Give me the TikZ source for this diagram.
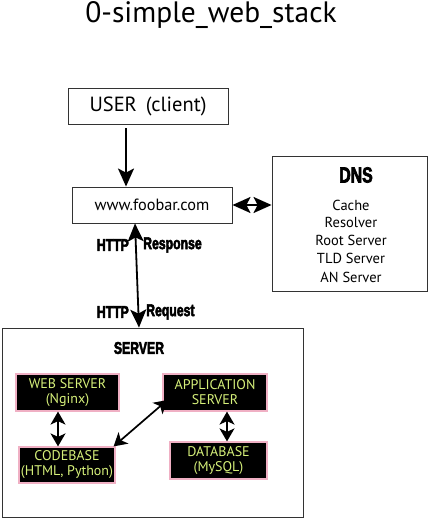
\documentclass[tikz,border=0pt]{standalone}
\usepackage{fontspec}
\setmainfont{PT Sans}
\newfontfamily\impactfont[FakeStretch=0.72,FakeBold=3]{Liberation Sans}
\usetikzlibrary{arrows.meta}
\definecolor{lime}{RGB}{214,240,122}
\definecolor{pinkline}{RGB}{240,176,196}
\begin{document}
\begin{tikzpicture}[x=1pt,y=-1pt,
  box/.style={draw=black!80, line width=0.9pt, inner sep=0pt},
  inbox/.style={draw=pinkline, fill=black, line width=1.2pt, inner sep=0pt, text=lime, align=center, font=\fontsize{14}{15}\selectfont},
  bigarrow/.style={line width=1.8pt, {Stealth[length=18pt,width=16pt,inset=4pt]}-{Stealth[length=18pt,width=16pt,inset=4pt]}},
  downarrow/.style={line width=1.8pt, -{Stealth[length=18pt,width=16pt,inset=4pt]}},
  smallarrow/.style={line width=1.7pt, {Stealth[length=13pt,width=15pt,inset=3.5pt]}-{Stealth[length=13pt,width=15pt,inset=3.5pt]}},
  impact/.style={inner sep=0pt, font=\impactfont\bfseries\fontsize{17}{19}\selectfont},
  dnsitem/.style={font=\fontsize{14.5}{16}\selectfont}
]
\useasboundingbox (0,0) rectangle (433,518);
\node (title) at (211,15) {\fontsize{29.5}{32}\selectfont 0-simple\_web\_stack};
\node[box, minimum width=160pt, minimum height=36pt, font=\fontsize{20.5}{22}\selectfont] (user) at (148,106) {USER\, (client)};
\node[box, minimum width=160pt, minimum height=36pt, font=\fontsize{16.3}{18}\selectfont] (foobar) at (152,205) {www.foobar.com};
\node[box, minimum width=155pt, minimum height=135pt] (dns) at (349.5,223.5) {};
\node[impact, font=\impactfont\bfseries\fontsize{22}{24}\selectfont] (dnst) at (356,175) {DNS};
\node[dnsitem] (d1) at (351,205) {Cache};
\node[dnsitem] (d2) at (351,222.5) {Resolver};
\node[dnsitem] (d3) at (351,240.5) {Root Server};
\node[dnsitem] (d4) at (351,258.5) {TLD Server};
\node[dnsitem] (d5) at (351,277) {AN Server};
\node[box, minimum width=301pt, minimum height=189pt] (server) at (152.5,422.5) {};
\node[impact] (servert) at (139,348) {SERVER};
\node[inbox, minimum width=103pt, minimum height=37pt] (web) at (67.5,392.5) {WEB SERVER\\(Nginx)};
\node[inbox, minimum width=96pt, minimum height=36pt] (code) at (67,465) {CODEBASE\\(HTML, Python)};
\node[inbox, minimum width=104pt, minimum height=37pt] (app) at (215,392.5) {APPLICATION\\SERVER};
\node[inbox, minimum width=97pt, minimum height=37pt] (db) at (218.5,460.5) {DATABASE\\(MySQL)};
\node[impact, anchor=east] (http1) at (129,245) {HTTP};
\node[impact, anchor=west] (resp) at (143,245) {Response};
\node[impact, anchor=east] (http2) at (129,312) {HTTP};
\node[impact, anchor=west] (req) at (146,312) {Request};
\draw[downarrow, shorten <=4pt] ([xshift=-22pt]user.south) -- ([xshift=-26pt]foobar.north);
\draw[bigarrow] (foobar.east) -- (foobar.east -| dns.west);
\draw[bigarrow] ([xshift=-17pt]foobar.south) -- ([xshift=-13.5pt]server.north);
\draw[smallarrow] ([xshift=-9.5pt]web.south) -- ([xshift=-9pt]code.north);
\draw[smallarrow] ([xshift=12pt]app.south) -- ([xshift=8.5pt]db.north);
\draw[smallarrow] ([xshift=-2pt]code.north east) -- ([yshift=-7.5pt,xshift=5pt]app.west);
\end{tikzpicture}
\end{document}
